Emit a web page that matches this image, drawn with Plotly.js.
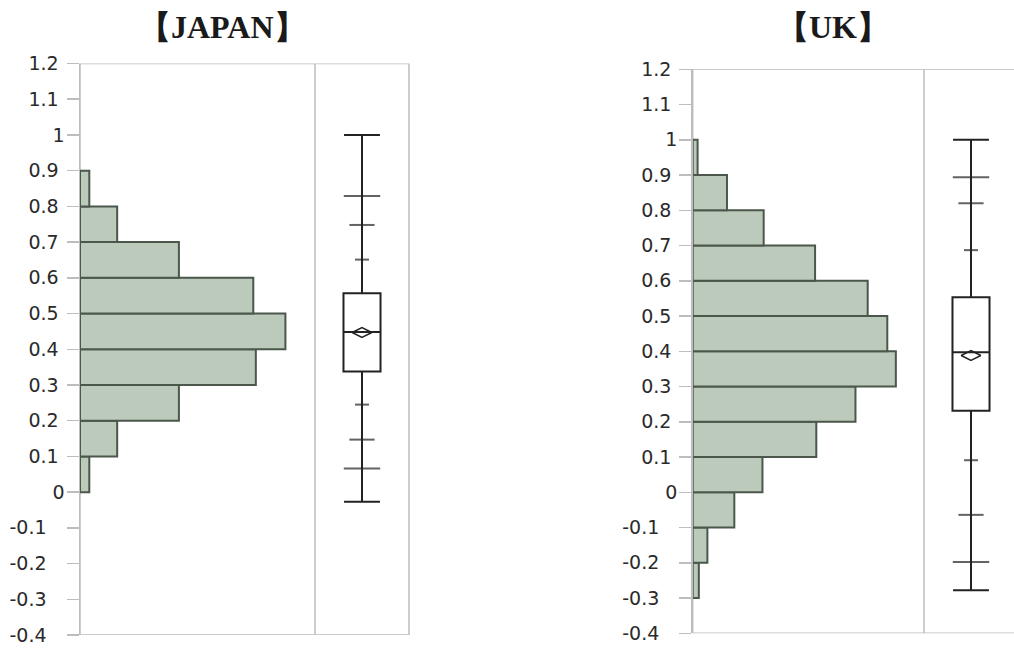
<!DOCTYPE html>
<html>
<head>
<meta charset="utf-8">
<script src="https://cdn.plot.ly/plotly-3.0.1.min.js"></script>
<style>
  html, body { margin: 0; padding: 0; background: #ffffff; }
  #chart { width: 1014px; height: 649px; }
</style>
</head>
<body>
<div id="chart"></div>
<script>
// Y axis ticks shared by both panels
const tickValues = [-0.4, -0.3, -0.2, -0.1, 0, 0.1, 0.2, 0.3, 0.4, 0.5, 0.6, 0.7, 0.8, 0.9, 1, 1.1, 1.2];
const tickLabels = ['-0.4', '-0.3', '-0.2', '-0.1', '0', '0.1', '0.2', '0.3', '0.4', '0.5', '0.6', '0.7', '0.8', '0.9', '1', '1.1', '1.2'];

// JAPAN: histogram (lower bin edges, share of observations in %)
const jpBinStart = [0, 0.1, 0.2, 0.3, 0.4, 0.5, 0.6, 0.7, 0.8];
const jpShare    = [1.1, 4.4, 11.7, 20.8, 24.3, 20.5, 11.7, 4.4, 1.1];
// JAPAN: distribution summary
const jpMin = -0.027, jpMax = 1.0;
const jpQ1 = 0.338, jpMedian = 0.448, jpQ3 = 0.557, jpMean = 0.447;
const jpLowTails  = [0.066, 0.147, 0.245];   // 1st, 5th, 10th percentiles
const jpHighTails = [0.651, 0.748, 0.829];   // 90th, 95th, 99th percentiles

// UK: histogram
const ukBinStart = [-0.3, -0.2, -0.1, 0, 0.1, 0.2, 0.3, 0.4, 0.5, 0.6, 0.7, 0.8, 0.9];
const ukShare    = [0.5, 1.2, 3.4, 5.7, 10.1, 13.3, 16.6, 15.9, 14.3, 10.0, 5.8, 2.8, 0.4];
// UK: distribution summary
const ukMin = -0.278, ukMax = 1.0;
const ukQ1 = 0.231, ukMedian = 0.397, ukQ3 = 0.553, ukMean = 0.388;
const ukLowTails  = [-0.198, -0.064, 0.091];
const ukHighTails = [0.687, 0.820, 0.894];

const W = 1014, H = 649;
const px = v => v / W;          // horizontal pixel -> paper
const py = v => 1 - v / H;      // vertical pixel -> paper

const barFill = '#bccabc', barLine = '#4a574a';
const ink = '#222222', frame = '#bdbdbd';
const tailSizes = [26, 18, 10];

function histTrace(edges, share, xa, ya) {
  return {
    type: 'bar', orientation: 'h',
    y: edges, x: share, width: 0.1, offset: 0,
    xaxis: xa, yaxis: ya,
    marker: { color: barFill, line: { color: barLine, width: 2 } },
    hoverinfo: 'skip'
  };
}

function boxTraces(stats, xa, ya) {
  const box = {
    type: 'box', x: [0.5],
    q1: [stats.q1], median: [stats.median], q3: [stats.q3],
    lowerfence: [stats.min], upperfence: [stats.max],
    width: 0.394, whiskerwidth: 0.97,
    fillcolor: '#ffffff', line: { color: ink, width: 2 },
    boxpoints: false, xaxis: xa, yaxis: ya, hoverinfo: 'skip'
  };
  const tails = stats.low.concat(stats.high);
  const sizes = tailSizes.concat(tailSizes.slice().reverse());
  const ticks = {
    type: 'scatter', mode: 'markers',
    x: tails.map(() => 0.5), y: tails,
    marker: { symbol: 'line-ew', size: sizes, color: ink, line: { color: ink, width: 2 } },
    xaxis: xa, yaxis: ya, hoverinfo: 'skip'
  };
  const mean = {
    type: 'scatter', mode: 'markers', x: [0.5], y: [stats.mean],
    marker: { symbol: 'diamond-wide-open', size: 14, color: ink, line: { color: ink, width: 1.5 } },
    xaxis: xa, yaxis: ya, hoverinfo: 'skip'
  };
  return [box, ticks, mean];
}

// tick label padding keeps the label text as shown on the printed axes
const padded = tickLabels.map(t => {
  if (t.startsWith('-')) return t + '\u00a0\u00a0\u00a0';
  if (t.length > 1) return t + '\u00a0';
  return t;
});

const data = [
  histTrace(jpBinStart, jpShare, 'x', 'y'),
  ...boxTraces({ q1: jpQ1, median: jpMedian, q3: jpQ3, min: jpMin, max: jpMax,
                 mean: jpMean, low: jpLowTails, high: jpHighTails }, 'x2', 'y'),
  histTrace(ukBinStart, ukShare, 'x3', 'y2'),
  ...boxTraces({ q1: ukQ1, median: ukMedian, q3: ukQ3, min: ukMin, max: ukMax,
                 mean: ukMean, low: ukLowTails, high: ukHighTails }, 'x4', 'y2')
];

const yAxisBase = {
  range: [-0.4, 1.2], tickmode: 'array', tickvals: tickValues, ticktext: padded,
  ticks: 'outside', ticklen: 12, tickwidth: 1.5, tickcolor: frame,
  ticklabelstandoff: -2,
  showline: true, linecolor: frame, linewidth: 1.5,
  showgrid: false, zeroline: false, fixedrange: true,
  tickfont: { family: '"DejaVu Sans", Verdana, sans-serif', size: 19, color: '#2a2a2a' }
};
const hidden = { visible: false, fixedrange: true, showgrid: false, zeroline: false };

const jpTop = 63.5, jpBottom = 635;
const ukTop = 69.3, ukBottom = 633.3;

const layout = {
  width: W, height: H,
  margin: { l: 0, r: 0, t: 0, b: 0 },
  paper_bgcolor: '#ffffff', plot_bgcolor: 'rgba(0,0,0,0)',
  showlegend: false,
  xaxis:  Object.assign({}, hidden, { domain: [px(80), px(315)], range: [0, 27.8], anchor: 'y' }),
  xaxis2: Object.assign({}, hidden, { domain: [px(315), px(409)], range: [0, 1], anchor: 'y' }),
  yaxis:  Object.assign({}, yAxisBase, { domain: [py(jpBottom), py(jpTop)], anchor: 'x' }),
  xaxis3: Object.assign({}, hidden, { domain: [px(692.7), px(924)], range: [0, 18.9], anchor: 'y2' }),
  xaxis4: Object.assign({}, hidden, { domain: [px(924), 1], range: [0, 90 / 94], anchor: 'y2' }),
  yaxis2: Object.assign({}, yAxisBase, { domain: [py(ukBottom), py(ukTop)], anchor: 'x3' }),
  shapes: [
    { type: 'rect', layer: 'below', xref: 'paper', yref: 'y', x0: px(80), x1: px(409), y0: -0.4, y1: 1.2,
      line: { color: frame, width: 1.5 } },
    { type: 'line', layer: 'below', xref: 'paper', yref: 'y', x0: px(315), x1: px(315), y0: -0.4, y1: 1.2,
      line: { color: frame, width: 1.5 } },
    { type: 'rect', layer: 'below', xref: 'paper', yref: 'y2', x0: px(692.7), x1: px(1018), y0: -0.4, y1: 1.2,
      line: { color: frame, width: 1.5 } },
    { type: 'line', layer: 'below', xref: 'paper', yref: 'y2', x0: px(924), x1: px(924), y0: -0.4, y1: 1.2,
      line: { color: frame, width: 1.5 } }
  ],
  annotations: [
    { text: '【JAPAN】', xref: 'paper', yref: 'paper', x: px(222), y: py(27),
      xanchor: 'center', yanchor: 'middle', showarrow: false,
      font: { family: '"Liberation Serif", "Times New Roman", serif', size: 32, weight: 'bold', color: '#1a1a1a' } },
    { text: '【UK】', xref: 'paper', yref: 'paper', x: px(833), y: py(27),
      xanchor: 'center', yanchor: 'middle', showarrow: false,
      font: { family: '"Liberation Serif", "Times New Roman", serif', size: 32, weight: 'bold', color: '#1a1a1a' } }
  ]
};

Plotly.newPlot('chart', data, layout, { staticPlot: true, displayModeBar: false });
</script>
</body>
</html>
